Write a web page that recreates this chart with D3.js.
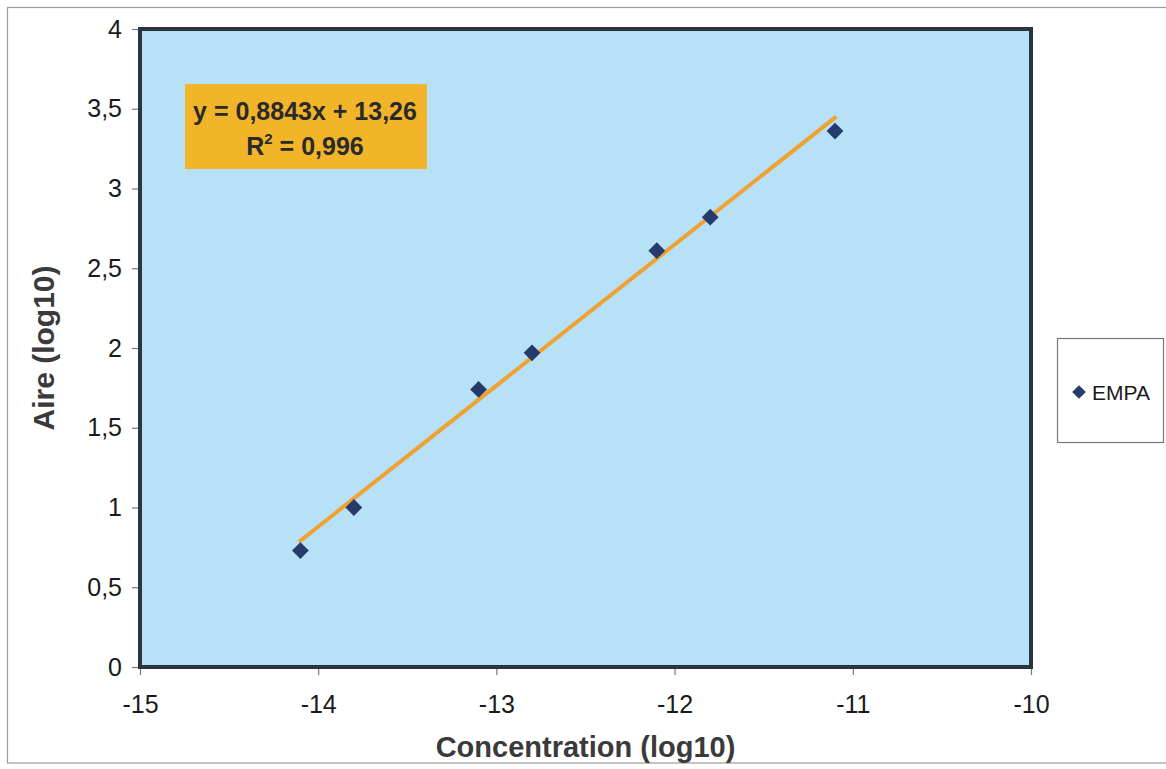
<!DOCTYPE html>
<html>
<head>
<meta charset="utf-8">
<script src="https://cdn.jsdelivr.net/npm/d3@7"></script>
<style>
  body { margin: 0; background: #fff; }
  svg { font-family: "Liberation Sans", Arial, sans-serif; }
</style>
</head>
<body>
<svg id="chart" width="1166" height="769"></svg>
<script>
// data
var concentration = [-14.1, -13.8, -13.1, -12.8, -12.1, -11.8, -11.1];
var aire = [0.73, 1.0, 1.74, 1.97, 2.61, 2.82, 3.36];
var xTicks = [-15, -14, -13, -12, -11, -10];
var yTicks = [0, 0.5, 1, 1.5, 2, 2.5, 3, 3.5, 4];
var slope = 0.8843, intercept = 13.26;
var seriesName = "EMPA";

var margin = {top: 29, left: 140, right: 135, bottom: 102};
var width = 1166, height = 769;

var svg = d3.select("#chart");
var fmt = d => String(d).replace(".", ",");

// outer chart frame
svg.append("rect")
    .attr("x", 7.5).attr("y", 7.5)
    .attr("width", 1170).attr("height", 755.5)
    .attr("fill", "none").attr("stroke", "#9a9a9a").attr("stroke-width", 1.2);

var x = d3.scaleLinear().domain([-15, -10]).range([margin.left, width - margin.right]);
var y = d3.scaleLinear().domain([0, 4]).range([height - margin.bottom, margin.top]);

// plot area
svg.append("rect")
    .attr("x", x(-15)).attr("y", y(4))
    .attr("width", x(-10) - x(-15)).attr("height", y(0) - y(4))
    .attr("fill", "#b6e1f6");

// axes
var yAxis = svg.append("g")
    .attr("transform", `translate(${x(-15) - 2},0)`)
    .call(d3.axisLeft(y).tickValues(yTicks).tickFormat(fmt).tickSize(6).tickPadding(10));
var xAxis = svg.append("g")
    .attr("transform", `translate(0,${y(0) + 2})`)
    .call(d3.axisBottom(x).tickValues(xTicks).tickFormat(fmt).tickSize(6).tickPadding(20));
[yAxis, xAxis].forEach(g => {
    g.select(".domain").remove();
    g.selectAll(".tick line").attr("stroke", "#777").attr("stroke-width", 1.2);
    g.selectAll(".tick text").attr("font-size", 25).attr("fill", "#1a1a1a")
        .attr("font-family", "Liberation Sans, Arial, sans-serif");
});

// plot border
svg.append("rect")
    .attr("x", x(-15)).attr("y", y(4))
    .attr("width", x(-10) - x(-15)).attr("height", y(0) - y(4))
    .attr("fill", "none").attr("stroke", "#29363d").attr("stroke-width", 4);

// trend line
var x0 = d3.min(concentration), x1 = d3.max(concentration);
svg.append("line")
    .attr("x1", x(x0)).attr("y1", y(slope * x0 + intercept))
    .attr("x2", x(x1)).attr("y2", y(slope * x1 + intercept))
    .attr("stroke", "#f0a132").attr("stroke-width", 4).attr("stroke-linecap", "round");

// markers
var diamond = d3.symbol().type(d3.symbolDiamond2).size(180);
svg.append("g").selectAll("path")
    .data(concentration.map((c, i) => [c, aire[i]]))
    .join("path")
    .attr("d", diamond)
    .attr("transform", d => `translate(${x(d[0])},${y(d[1])})`)
    .attr("fill", "#263a6c");

// equation label
var eq = svg.append("g");
eq.append("rect")
    .attr("x", 185).attr("y", 84).attr("width", 242).attr("height", 85)
    .attr("fill", "#f2b52a");
eq.append("text")
    .attr("x", 305).attr("y", 120)
    .attr("text-anchor", "middle").attr("font-size", 25).attr("font-weight", "bold").attr("fill", "#2a2a2a")
    .text(`y = ${fmt(slope)}x + ${fmt(intercept)}`);
var r2 = eq.append("text")
    .attr("x", 305).attr("y", 155)
    .attr("text-anchor", "middle").attr("font-size", 25).attr("font-weight", "bold").attr("fill", "#2a2a2a");
r2.append("tspan").text("R");
r2.append("tspan").attr("font-size", 15).attr("dy", -11).text("2");
r2.append("tspan").attr("dy", 11).text(" = 0,996");

// axis titles
svg.append("text")
    .attr("x", (x(-15) + x(-10)) / 2).attr("y", 757)
    .attr("text-anchor", "middle").attr("font-size", 29).attr("font-weight", "bold").attr("fill", "#3a3a3a")
    .text("Concentration (log10)");
svg.append("text")
    .attr("transform", `translate(54,${(y(0) + y(4)) / 2}) rotate(-90)`)
    .attr("text-anchor", "middle").attr("font-size", 30).attr("font-weight", "bold").attr("fill", "#3a3a3a")
    .text("Aire (log10)");

// legend
var legend = svg.append("g");
legend.append("rect")
    .attr("x", 1057.5).attr("y", 338.5).attr("width", 106).attr("height", 104)
    .attr("fill", "#fff").attr("stroke", "#777").attr("stroke-width", 1.2);
legend.append("path")
    .attr("d", d3.symbol().type(d3.symbolDiamond2).size(120))
    .attr("transform", "translate(1079,392)")
    .attr("fill", "#263a6c");
legend.append("text")
    .attr("x", 1092).attr("y", 400)
    .attr("font-size", 21).attr("fill", "#1a1a1a")
    .text(seriesName);
</script>
</body>
</html>
